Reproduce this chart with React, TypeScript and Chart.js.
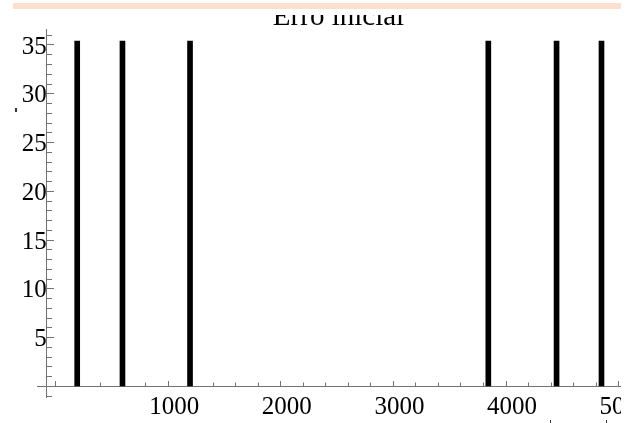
import React, { useEffect, useRef } from "react";
import { Chart, registerables } from "chart.js";

Chart.register(...registerables);

// ---- data ----
const TITLE = "Erro inicial";
const barPositions = [192, 594, 1194, 3843, 4449, 4848];
const barValues = [35.4, 35.4, 35.4, 35.4, 35.4, 35.4];
const xMajorTicks = [0, 1000, 2000, 3000, 4000, 5000];
const xMinorTicks = [
  0, 200, 400, 600, 800, 1000, 1200, 1400, 1600, 1800, 2000, 2200, 2400, 2600,
  2800, 3000, 3200, 3400, 3600, 3800, 4000, 4200, 4400, 4600, 4800, 5000,
];
const yMajorTicks = [0, 5, 10, 15, 20, 25, 30, 35];
const yMinorTicks = [
  -1, 0, 1, 2, 3, 4, 5, 6, 7, 8, 9, 10, 11, 12, 13, 14, 15, 16, 17, 18, 19, 20,
  21, 22, 23, 24, 25, 26, 27, 28, 29, 30, 31, 32, 33, 34, 35, 36,
];
const xMin = -165;
const xMax = 5190;
const yMin = -1.09;
const yMax = 36.64;
const yAxisAtX = -78;

const SERIF = "'Liberation Serif', 'Times New Roman', serif";
const AXIS_COLOR = "#737373";

const setTicks = (vals: number[]) => (scale: any) => {
  scale.ticks = vals.map((value) => ({ value }));
};

export default function App() {
  const ref = useRef<HTMLCanvasElement | null>(null);

  useEffect(() => {
    if (!ref.current) return;
    const labelFont = { family: SERIF, size: 25, weight: "normal" as const, lineHeight: 1.2 };
    const chart = new Chart(ref.current, {
      type: "bar",
      data: {
        datasets: [
          {
            data: barPositions.map((x, i) => ({ x, y: barValues[i] })),
            backgroundColor: "#000000",
            borderWidth: 0,
            barThickness: 5,
            xAxisID: "x",
            yAxisID: "y",
          } as any,
        ],
      },
      options: {
        animation: false,
        responsive: false,
        devicePixelRatio: 1,
        layout: { padding: { left: 37, right: 45, top: 0.8, bottom: 25 } },
        plugins: {
          legend: { display: false },
          tooltip: { enabled: false },
          title: {
            display: true,
            text: TITLE,
            color: "#000000",
            font: { family: SERIF, size: 29, weight: "normal", lineHeight: 0.8 },
            padding: { top: 5, bottom: 0 },
          },
        },
        scales: {
          x: {
            type: "linear",
            axis: "x",
            min: xMin,
            max: xMax,
            offset: false,
            position: { y: 0 } as any,
            afterBuildTicks: setTicks(xMajorTicks),
            grid: {
              display: true,
              drawOnChartArea: false,
              drawTicks: true,
              tickLength: -6,
              tickColor: AXIS_COLOR,
              tickWidth: 1,
              offset: false,
            },
            border: { display: true, color: AXIS_COLOR, width: 1 },
            ticks: {
              autoSkip: false,
              maxRotation: 0,
              minRotation: 0,
              padding: 12.5,
              labelOffset: 6,
              color: "#000000",
              font: labelFont,
              callback: (v: any) => (Number(v) <= 0 ? "" : String(v)),
            },
          },
          x2: {
            type: "linear",
            axis: "x",
            min: xMin,
            max: xMax,
            offset: false,
            position: { y: 0 } as any,
            afterBuildTicks: setTicks(xMinorTicks),
            grid: {
              display: true,
              drawOnChartArea: false,
              drawTicks: true,
              tickLength: -3.5,
              tickColor: AXIS_COLOR,
              tickWidth: 1,
              offset: false,
            },
            border: { display: false },
            ticks: { autoSkip: false, display: false },
          },
          y: {
            type: "linear",
            axis: "y",
            min: yMin,
            max: yMax,
            position: { x: yAxisAtX } as any,
            afterBuildTicks: setTicks(yMajorTicks),
            grid: {
              display: true,
              drawOnChartArea: false,
              drawTicks: true,
              tickLength: -8,
              tickColor: AXIS_COLOR,
              tickWidth: 1,
            },
            border: { display: true, color: AXIS_COLOR, width: 1 },
            ticks: {
              autoSkip: false,
              padding: 11,
              labelOffset: 2,
              color: "#000000",
              font: labelFont,
              callback: (v: any) => (Number(v) <= 0 ? "" : String(v)),
            },
          },
          y2: {
            type: "linear",
            axis: "y",
            min: yMin,
            max: yMax,
            position: { x: yAxisAtX } as any,
            afterBuildTicks: setTicks(yMinorTicks),
            grid: {
              display: true,
              drawOnChartArea: false,
              drawTicks: true,
              tickLength: -5,
              tickColor: AXIS_COLOR,
              tickWidth: 1,
            },
            border: { display: false },
            ticks: { autoSkip: false, display: false },
          },
        },
      } as any,
    });
    return () => chart.destroy();
  }, []);

  const speck = (left: number, top: number, w: number, h: number) => (
    <div
      style={{
        position: "absolute",
        left,
        top,
        width: w,
        height: h,
        background: "#333333",
      }}
    />
  );

  return (
    <div
      style={{
        position: "fixed",
        left: 0,
        top: 0,
        width: 632,
        height: 423,
        overflow: "hidden",
        background: "#ffffff",
      }}
    >
      <div
        style={{
          position: "absolute",
          left: 0,
          top: 0,
          width: 621,
          height: 423,
          overflow: "hidden",
        }}
      >
        <canvas
          ref={ref}
          width={685}
          height={423}
          style={{ position: "absolute", left: 0, top: 0, display: "block" }}
        />
      </div>
      <div
        style={{
          position: "absolute",
          left: 0,
          top: 0,
          width: 632,
          height: 15,
          background: "#ffffff",
        }}
      />
      <div
        style={{
          position: "absolute",
          left: 13,
          top: 3,
          width: 608,
          height: 6,
          background: "#fbdfcf",
        }}
      />
      {speck(15, 108, 1.5, 4)}
      {speck(549.5, 420, 1.5, 3)}
      {speck(605.5, 420, 1.5, 3)}
    </div>
  );
}
